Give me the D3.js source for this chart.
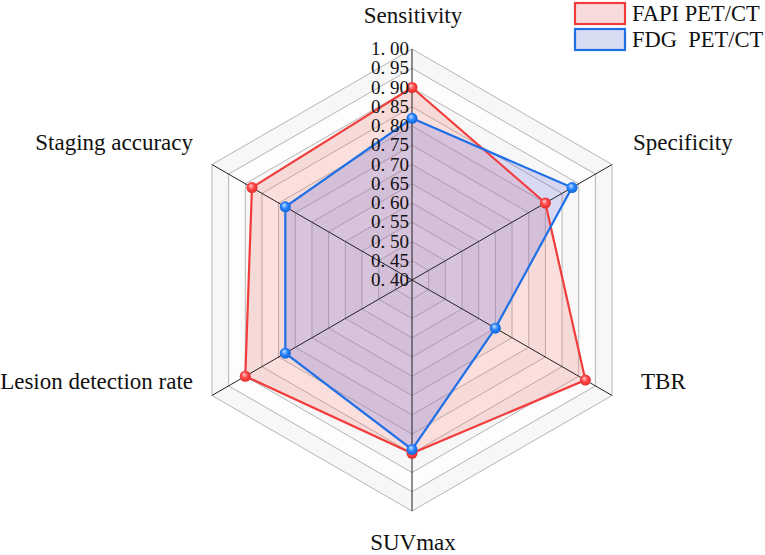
<!DOCTYPE html>
<html>
<head>
<meta charset="utf-8">
<script src="https://cdn.jsdelivr.net/npm/d3@7"></script>
<style>
  body { margin: 0; background: #fff; }
  text { font-family: "Liberation Serif", "Times New Roman", serif; fill: #111; }
</style>
</head>
<body>
<div id="container"></div>
<script>
/* CONSTANTS AND GLOBALS */
const width = 765, height = 555;
const cx = 412, cy = 280, radius = 231;

// axes in clockwise order, starting at the top
const axes = ["Sensitivity", "Specificity", "TBR", "SUVmax", "Lesion detection rate", "Staging accuracy"];
const fapi = [0.90, 0.80, 0.92, 0.85, 0.90, 0.88];
const fdg = [0.82, 0.88, 0.65, 0.84, 0.78, 0.78];
const ticks = [0.40, 0.45, 0.50, 0.55, 0.60, 0.65, 0.70, 0.75, 0.80, 0.85, 0.90, 0.95, 1.00];
const seriesNames = ["FAPI PET/CT", "FDG  PET/CT"];

const rScale = d3.scaleLinear().domain([0.4, 1.0]).range([0, radius]);
const angle = i => i * Math.PI / 3; // 0 = up, clockwise

function pt(i, v) {
  const r = rScale(v);
  return [cx + r * Math.sin(angle(i)), cy - r * Math.cos(angle(i))];
}

const svg = d3.select("#container").append("svg")
  .attr("width", width)
  .attr("height", height);

const defs = svg.append("defs");
[["ballRed", "#ffd0d0", "#ff4a4a", "#d82020"], ["ballBlue", "#d0e4ff", "#2a86ff", "#0a58c8"]].forEach(([id, c0, c1, c2]) => {
  const g = defs.append("radialGradient").attr("id", id).attr("cx", "0.5").attr("cy", "0.5").attr("fx", "0.38").attr("fy", "0.32").attr("r", "0.6");
  g.append("stop").attr("offset", "0%").attr("stop-color", c0);
  g.append("stop").attr("offset", "45%").attr("stop-color", c1);
  g.append("stop").attr("offset", "100%").attr("stop-color", c2);
});

const line = d3.line();
const ring = v => axes.map((a, i) => pt(i, v));

// background bands
const bands = svg.append("g");
ticks.slice().reverse().forEach((t, k) => {
  bands.append("path")
    .attr("d", line(ring(t)) + "Z")
    .attr("fill", k % 2 === 0 ? "#f7f7f7" : "#fdfdfd")
    .attr("stroke", "none");
});

// grid rings
svg.append("g").selectAll("path")
  .data(ticks.slice(1))
  .join("path")
  .attr("d", t => line(ring(t)) + "Z")
  .attr("fill", "none")
  .attr("stroke", "#b4b4b4")
  .attr("stroke-width", 1);

// series areas
const series = [
  { vals: fapi, fill: "rgba(240,120,110,0.22)", stroke: "#f23c3c", ball: "url(#ballRed)" },
  { vals: fdg, fill: "rgba(110,110,215,0.25)", stroke: "#1f6fe6", ball: "url(#ballBlue)" }
];

series.forEach(s => {
  svg.append("path")
    .attr("d", line(s.vals.map((v, i) => pt(i, v))) + "Z")
    .attr("fill", s.fill)
    .attr("stroke", "none");
});

// axis lines
svg.append("g").selectAll("line")
  .data(axes)
  .join("line")
  .attr("x1", cx).attr("y1", cy)
  .attr("x2", (d, i) => pt(i, 1.0)[0])
  .attr("y2", (d, i) => pt(i, 1.0)[1])
  .attr("stroke", "#222")
  .attr("stroke-width", 1);

series.forEach(s => {
  svg.append("path")
    .attr("d", line(s.vals.map((v, i) => pt(i, v))) + "Z")
    .attr("fill", "none")
    .attr("stroke", s.stroke)
    .attr("stroke-width", 2.2)
    .attr("stroke-linejoin", "miter");
});

series.forEach(s => {
  svg.append("g").selectAll("circle")
    .data(s.vals)
    .join("circle")
    .attr("cx", (v, i) => pt(i, v)[0])
    .attr("cy", (v, i) => pt(i, v)[1])
    .attr("r", 5.5)
    .attr("fill", s.ball);
});

// tick labels
svg.append("g").selectAll("text")
  .data(ticks)
  .join("text")
  .attr("x", cx - 3)
  .attr("y", t => cy - rScale(t) + 6)
  .attr("text-anchor", "end")
  .style("font-size", "19px")
  .text(t => t.toFixed(2).replace(".", ". "));

// axis labels
const labelPos = [
  [413, 23, "middle"],
  [633, 150, "start"],
  [641, 389, "start"],
  [413, 550, "middle"],
  [193, 389, "end"],
  [193, 150, "end"]
];
svg.append("g").selectAll("text")
  .data(axes)
  .join("text")
  .attr("x", (d, i) => labelPos[i][0])
  .attr("y", (d, i) => labelPos[i][1])
  .attr("text-anchor", (d, i) => labelPos[i][2])
  .style("font-size", "23px")
  .text(d => d);

// legend
const legend = svg.append("g").attr("transform", "translate(575, 3)");
const legendFill = ["#f8dcdc", "#d8dcf0"];
seriesNames.forEach((name, i) => {
  legend.append("rect")
    .attr("x", 0).attr("y", i * 26)
    .attr("width", 50).attr("height", 21)
    .attr("fill", legendFill[i])
    .attr("stroke", series[i].stroke)
    .attr("stroke-width", 2.2);
  legend.append("text")
    .attr("x", 57).attr("y", i * 26 + 18)
    .style("font-size", "22.5px")
    .style("white-space", "pre")
    .attr("xml:space", "preserve")
    .text(name);
});
</script>
</body>
</html>
